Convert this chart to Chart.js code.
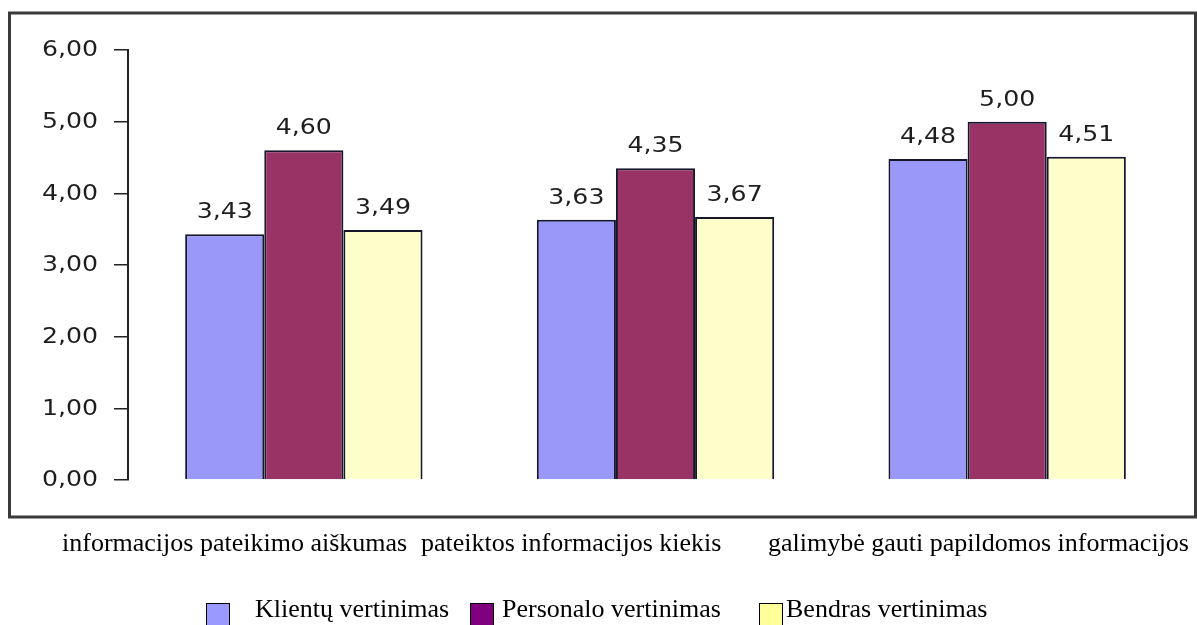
<!DOCTYPE html>
<html lang="lt">
<head>
<meta charset="utf-8">
<title>Informacijos vertinimas</title>
<script src="https://cdn.jsdelivr.net/npm/chart.js@4.4.1/dist/chart.umd.min.js"></script>
<style>
  html, body { margin: 0; padding: 0; background: #fff; }
  #wrap { position: relative; width: 1197px; height: 625px; overflow: hidden; }
  #chart { position: absolute; left: 0; top: 0; }
  .serif { position: absolute; font-family: "Liberation Serif", "Times New Roman", serif;
           font-size: 26px; line-height: 26px; color: #000; white-space: nowrap; }
  .swatch { position: absolute; width: 22px; height: 22px; border: 1.5px solid #000; }
</style>
</head>
<body>
<div id="wrap">
  <canvas id="chart" width="1197" height="625"></canvas>
  <div id="cats"></div>
  <div id="legend"></div>
</div>
<script>
// Vertinimo kategorijos ir serijos
const categories = [
  'informacijos pateikimo aiškumas',
  'pateiktos informacijos kiekis',
  'galimybė gauti papildomos informacijos'
];
const seriesNames = ['Klientų vertinimas', 'Personalo vertinimas', 'Bendras vertinimas'];
const klientuVertinimas   = [3.43, 3.63, 4.48];
const personaloVertinimas = [4.60, 4.35, 5.00];
const bendrasVertinimas   = [3.49, 3.67, 4.51];
const yTicks = [0, 1, 2, 3, 4, 5, 6];

const barFill    = ['#9a98f8', '#993366', '#ffffcc'];
const swatchFill = ['#9999ff', '#800080', '#ffff99'];

const fmt = v => v.toFixed(2).replace('.', ',');

// Sans labels are drawn slightly widened
const SANS = '21px "DejaVu Sans", Verdana, sans-serif';
function wideText(ctx, text, x, y, align, baseline) {
  ctx.save();
  ctx.translate(x, y);
  ctx.scale(1.2, 1);
  ctx.font = SANS;
  ctx.fillStyle = '#1e1e1e';
  ctx.textAlign = align;
  ctx.textBaseline = baseline;
  ctx.fillText(text, 0, 0);
  ctx.restore();
}

const frameAndLabels = {
  id: 'frameAndLabels',
  beforeDraw(chart) {
    const ctx = chart.ctx;
    ctx.save();
    ctx.fillStyle = '#fff';
    ctx.fillRect(0, 0, chart.width, chart.height);
    ctx.strokeStyle = '#3a3a3a';
    ctx.lineWidth = 3;
    ctx.strokeRect(9.5, 13, 1186, 504);
    ctx.restore();
  },
  afterDraw(chart) {
    const ctx = chart.ctx;
    const y = chart.scales.y;
    yTicks.forEach(v => {
      wideText(ctx, fmt(v), 98, y.getPixelForValue(v) + 1, 'right', 'middle');
    });
    chart.data.datasets.forEach((ds, i) => {
      chart.getDatasetMeta(i).data.forEach((bar, j) => {
        wideText(ctx, fmt(ds.data[j]), bar.x, bar.y - 16, 'center', 'alphabetic');
      });
    });
  }
};

new Chart(document.getElementById('chart'), {
  type: 'bar',
  data: {
    labels: categories,
    datasets: [klientuVertinimas, personaloVertinimas, bendrasVertinimas].map((d, i) => ({
      label: seriesNames[i],
      data: d,
      backgroundColor: barFill[i],
      borderColor: '#16162c',
      borderWidth: 2,
      categoryPercentage: 0.675,
      barPercentage: 1.0
    }))
  },
  options: {
    responsive: false,
    devicePixelRatio: 1,
    animation: false,
    layout: { padding: { left: 0, right: 14, top: 50, bottom: 145 } },
    plugins: { legend: { display: false }, tooltip: { enabled: false } },
    scales: {
      x: { display: false },
      y: {
        min: 0, max: 6,
        afterFit(scale) { scale.width = 128; },
        ticks: { display: false, stepSize: 1 },
        grid: { drawOnChartArea: false, drawTicks: true, tickLength: 14, color: '#222', lineWidth: 1.5 },
        border: { display: true, color: '#222', width: 2 }
      }
    }
  },
  plugins: [frameAndLabels]
});

// Category captions and legend beneath the frame
const catLeft = [62, 421, 768];
const cats = document.getElementById('cats');
categories.forEach((c, i) => {
  const s = document.createElement('div');
  s.className = 'serif';
  s.style.left = catLeft[i] + 'px';
  s.style.top = '530px';
  s.textContent = c;
  cats.appendChild(s);
});

const legendSwatchLeft = [206, 470, 759];
const legendTextLeft = [255, 502, 786];
const legend = document.getElementById('legend');
seriesNames.forEach((n, i) => {
  const sw = document.createElement('div');
  sw.className = 'swatch';
  sw.style.left = legendSwatchLeft[i] + 'px';
  sw.style.top = '603px';
  sw.style.background = swatchFill[i];
  legend.appendChild(sw);
  const t = document.createElement('div');
  t.className = 'serif';
  t.style.left = legendTextLeft[i] + 'px';
  t.style.top = '596px';
  t.textContent = n;
  legend.appendChild(t);
});
</script>
</body>
</html>
